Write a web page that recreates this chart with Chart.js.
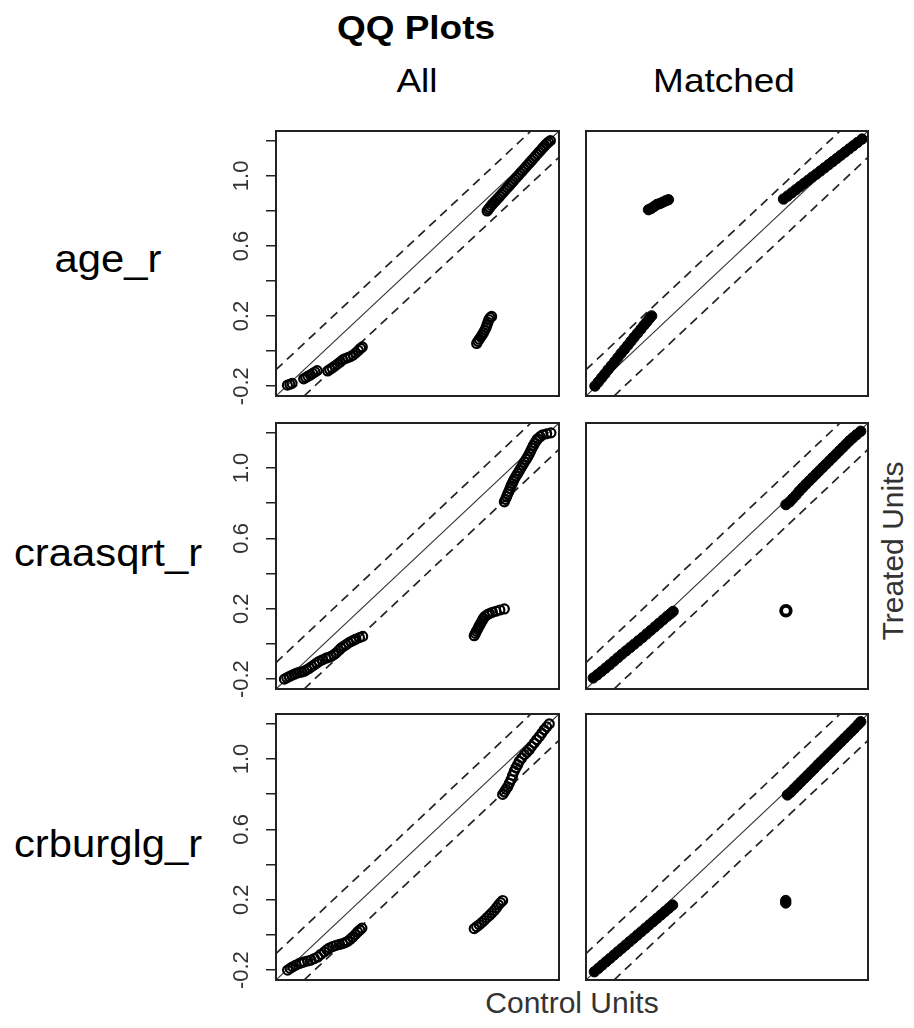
<!DOCTYPE html>
<html>
<head>
<meta charset="utf-8">
<script src="https://cdn.jsdelivr.net/npm/chart.js@4/dist/chart.umd.min.js"></script>
<style>
  html, body { margin: 0; padding: 0; background: #fff; }
  body { width: 914px; height: 1028px; position: relative; overflow: hidden;
         font-family: "Liberation Sans", Arial, Helvetica, sans-serif; }
  .lbl { position: absolute; white-space: nowrap; line-height: 1; }
  canvas { position: absolute; }
</style>
</head>
<body>
<script>
// ---------------- text ----------------
const chartTitle = 'QQ Plots';
const columnLabels = ['All', 'Matched'];
const rowLabels = ['age_r', 'craasqrt_r', 'crburglg_r'];
const xAxisTitle = 'Control Units';
const yAxisTitle = 'Treated Units';

// ---------------- axes ----------------
const axisMin = -0.256;
const axisMax = 1.256;
const yTickValues = [-0.2, 0.0, 0.2, 0.4, 0.6, 0.8, 1.0, 1.2];
const yTickLabels = ['-0.2', '0.2', '0.6', '1.0'];
const bandOffset = 0.15;

// ---------------- data (x = control quantile, y = treated quantile) ----------------
// age_r, All
const ageAllControl = [-0.195,-0.182,-0.170,-0.108,-0.097,-0.085,-0.072,-0.060,-0.048,-0.036,0.020,0.031,0.044,0.058,0.072,0.087,0.100,0.114,0.128,0.142,0.156,0.170,0.184,0.196,0.205,
  0.816,0.823,0.830,0.838,0.846,0.853,0.860,0.866,0.871,0.876,0.881,0.888,0.896,
  0.872,0.879,0.886,0.894,0.902,0.911,0.920,0.930,0.940,0.950,0.960,0.970,0.980,0.990,1.000,1.010,1.020,1.030,1.040,1.050,1.060,1.070,1.080,1.090,1.100,1.110,1.120,1.130,1.140,1.150,1.160,1.170,1.180,1.190,1.200,1.210];
const ageAllTreated = [-0.194,-0.189,-0.184,-0.158,-0.151,-0.143,-0.136,-0.127,-0.119,-0.111,-0.113,-0.105,-0.096,-0.085,-0.074,-0.062,-0.050,-0.042,-0.037,-0.031,-0.022,-0.010,0.004,0.016,0.024,
  0.044,0.056,0.068,0.080,0.093,0.106,0.120,0.134,0.149,0.164,0.179,0.191,0.198,
  0.800,0.810,0.820,0.830,0.841,0.851,0.861,0.872,0.884,0.896,0.908,0.920,0.932,0.944,0.956,0.968,0.980,0.992,1.004,1.016,1.028,1.040,1.052,1.064,1.076,1.088,1.100,1.112,1.124,1.136,1.148,1.160,1.172,1.183,1.193,1.201];

// age_r, Matched
const ageMatchedControl = [-0.208,-0.190,-0.172,-0.155,-0.138,-0.120,-0.102,-0.085,-0.068,-0.050,-0.032,-0.015,0.002,0.020,0.038,0.055,0.070,0.084,0.096,
  0.079,0.095,0.110,0.125,0.140,0.156,0.172,0.186,
  0.803,0.825,0.847,0.869,0.891,0.913,0.935,0.957,0.979,1.001,1.023,1.045,1.067,1.089,1.111,1.133,1.155,1.177,1.199,1.224];
const ageMatchedTreated = [-0.199,-0.176,-0.152,-0.130,-0.106,-0.083,-0.060,-0.037,-0.013,0.010,0.033,0.056,0.079,0.102,0.125,0.148,0.167,0.186,0.201,
  0.807,0.815,0.826,0.837,0.842,0.850,0.858,0.864,
  0.868,0.885,0.903,0.921,0.939,0.957,0.975,0.993,1.010,1.028,1.046,1.064,1.082,1.100,1.118,1.136,1.154,1.172,1.190,1.210];

// craasqrt_r, All
const craasqrtAllControl = [-0.211,-0.198,-0.185,-0.172,-0.158,-0.145,-0.131,-0.118,-0.105,-0.092,-0.078,-0.065,-0.051,-0.038,-0.025,-0.008,0.011,0.025,0.038,0.052,0.064,0.078,0.091,0.105,0.118,0.132,0.145,0.158,0.171,0.190,0.207,
  0.803,0.809,0.815,0.821,0.827,0.833,0.839,0.846,0.852,0.860,0.872,0.884,0.900,0.919,0.940,0.964,
  0.964,0.970,0.976,0.982,0.988,0.994,1.000,1.006,1.012,1.017,1.026,1.035,1.044,1.053,1.062,1.071,1.080,1.089,1.097,1.105,1.112,1.119,1.127,1.135,1.142,1.155,1.169,1.190,1.213];
const craasqrtAllTreated = [-0.200,-0.192,-0.185,-0.178,-0.172,-0.166,-0.162,-0.159,-0.155,-0.147,-0.138,-0.128,-0.118,-0.108,-0.099,-0.090,-0.081,-0.076,-0.071,-0.062,-0.052,-0.038,-0.024,-0.013,-0.004,0.006,0.014,0.021,0.028,0.036,0.043,
  0.047,0.060,0.072,0.083,0.096,0.108,0.120,0.133,0.145,0.156,0.166,0.173,0.180,0.186,0.193,0.199,
  0.808,0.822,0.837,0.852,0.867,0.883,0.899,0.912,0.925,0.937,0.953,0.969,0.985,1.001,1.017,1.033,1.049,1.064,1.080,1.097,1.113,1.128,1.142,1.156,1.166,1.178,1.189,1.195,1.200];

// craasqrt_r, Matched
const craasqrtMatchedControl = [-0.217,-0.195,-0.173,-0.151,-0.129,-0.107,-0.085,-0.063,-0.041,-0.019,0.003,0.025,0.047,0.069,0.091,0.113,0.135,0.157,0.179,0.197,0.211,
  0.816,0.836,0.852,0.870,0.887,0.905,0.923,0.941,0.959,0.977,0.995,1.013,1.031,1.049,1.067,1.085,1.103,1.121,1.139,1.157,1.175,1.195,1.217];
const craasqrtMatchedTreated = [-0.193,-0.175,-0.156,-0.137,-0.118,-0.098,-0.078,-0.058,-0.039,-0.020,-0.001,0.018,0.037,0.057,0.077,0.097,0.117,0.137,0.157,0.172,0.185,
  0.792,0.808,0.826,0.846,0.868,0.888,0.908,0.927,0.946,0.965,0.984,1.003,1.022,1.041,1.060,1.079,1.098,1.117,1.136,1.155,1.172,1.190,1.209];
const craasqrtMatchedOutlierControl = [0.816];
const craasqrtMatchedOutlierTreated = [0.189];

// crburglg_r, All
const crburglgAllControl = [-0.194,-0.180,-0.167,-0.149,-0.131,-0.118,-0.105,-0.087,-0.069,-0.051,-0.033,-0.016,0.002,0.016,0.029,0.047,0.065,0.083,0.100,0.114,0.127,0.141,0.154,0.167,0.180,0.192,0.203,
  0.803,0.816,0.830,0.843,0.857,0.870,0.884,0.897,0.910,0.922,0.933,0.944,0.955,
  0.955,0.964,0.973,0.982,0.991,1.000,1.008,1.017,1.026,1.035,1.044,1.057,1.071,1.084,1.097,1.110,1.124,1.137,1.151,1.164,1.177,1.190,1.204];
const crburglgAllTreated = [-0.200,-0.190,-0.181,-0.171,-0.162,-0.157,-0.153,-0.148,-0.143,-0.134,-0.125,-0.110,-0.096,-0.084,-0.074,-0.066,-0.059,-0.054,-0.049,-0.043,-0.036,-0.024,-0.012,0.002,0.017,0.028,0.039,
  0.036,0.047,0.058,0.070,0.083,0.097,0.111,0.125,0.139,0.155,0.171,0.184,0.196,
  0.799,0.813,0.828,0.842,0.862,0.883,0.907,0.931,0.950,0.968,0.987,1.006,1.025,1.039,1.053,1.072,1.091,1.110,1.128,1.147,1.166,1.183,1.200];

// crburglg_r, Matched
const crburglgMatchedControl = [-0.211,-0.190,-0.169,-0.148,-0.127,-0.106,-0.085,-0.064,-0.043,-0.022,-0.001,0.020,0.041,0.062,0.083,0.104,0.125,0.146,0.167,0.188,0.208,
  0.824,0.842,0.860,0.878,0.896,0.914,0.932,0.950,0.968,0.986,1.004,1.022,1.040,1.058,1.076,1.094,1.112,1.130,1.148,1.166,1.184,1.202,1.217,
  0.815,0.815];
const crburglgMatchedTreated = [-0.209,-0.190,-0.171,-0.152,-0.133,-0.114,-0.095,-0.076,-0.057,-0.038,-0.019,0.000,0.019,0.038,0.057,0.076,0.095,0.114,0.133,0.152,0.170,
  0.796,0.812,0.832,0.851,0.870,0.889,0.908,0.927,0.946,0.966,0.985,1.004,1.023,1.042,1.061,1.080,1.099,1.118,1.137,1.156,1.175,1.195,1.212,
  0.182,0.196];

// ---------------- layout ----------------
const FONT = '"Liberation Sans", Arial, Helvetica, sans-serif';
const rowBoxes = [{top: 131, bottom: 396}, {top: 423, bottom: 689}, {top: 714, bottom: 980}];
const colBoxes = [{left: 276, right: 559}, {left: 586, right: 868}];
const Y_AXIS_W = 76, PAD = 20;

function addLabel(text, x, y, style, extra) {
  const d = document.createElement('div');
  d.className = 'lbl';
  d.textContent = text;
  d.style.left = x + 'px';
  d.style.top = y + 'px';
  Object.assign(d.style, style);
  d.style.transform = 'translate(-50%,-50%)' + (extra || '');
  document.body.appendChild(d);
}

addLabel(chartTitle, 416, 27, {fontSize: '33px', fontWeight: 'bold', color: '#000'}, ' scaleX(1.12)');
addLabel(columnLabels[0], 417, 80, {fontSize: '33px', color: '#000'}, ' scaleX(1.12)');
addLabel(columnLabels[1], 724, 80, {fontSize: '33px', color: '#000'}, ' scaleX(1.12)');
const rowLabelY = [259, 553, 844];
rowLabels.forEach((t, i) => addLabel(t, 108, rowLabelY[i], {fontSize: '38px', color: '#000'}, ' scaleX(1.1)'));
addLabel(xAxisTitle, 572, 1003, {fontSize: '30px', color: '#333'});
addLabel(yAxisTitle, 893, 551, {fontSize: '30px', color: '#333'}, ' rotate(-90deg)');

const framePlugin = {
  id: 'frame',
  afterDatasetsDraw(chart) {
    const {ctx, chartArea: a} = chart;
    ctx.save();
    ctx.strokeStyle = '#222';
    ctx.lineWidth = 2;
    ctx.strokeRect(a.left, a.top, a.right - a.left, a.bottom - a.top);
    ctx.restore();
  }
};

function toPoints(xs, ys) { return xs.map((x, i) => ({x: x, y: ys[i]})); }

function refLines() {
  return [
    {data: [{x: axisMin, y: axisMin}, {x: axisMax, y: axisMax}], showLine: true, pointRadius: 0,
     borderColor: '#333', borderWidth: 1.1, order: 5},
    {data: [{x: axisMin, y: axisMin + bandOffset}, {x: axisMax - bandOffset, y: axisMax}], showLine: true, pointRadius: 0,
     borderColor: '#222', borderWidth: 1.7, borderDash: [9, 6], order: 5},
    {data: [{x: axisMin + bandOffset, y: axisMin}, {x: axisMax, y: axisMax - bandOffset}], showLine: true, pointRadius: 0,
     borderColor: '#222', borderWidth: 1.7, borderDash: [9, 6], order: 5}
  ];
}

function openPoints(xs, ys) {
  return {data: toPoints(xs, ys), showLine: false, pointRadius: 4.5, pointBorderWidth: 2.2,
          pointBorderColor: '#000', pointBackgroundColor: 'rgba(0,0,0,0)', order: 1};
}
function solidPoints(xs, ys) {
  return {data: toPoints(xs, ys), showLine: false, pointRadius: 5.2, pointBorderWidth: 1,
          pointBorderColor: '#000', pointBackgroundColor: '#000', order: 1};
}
function ringPoints(xs, ys) {
  return {data: toPoints(xs, ys), showLine: false, pointRadius: 4.8, pointBorderWidth: 3.8,
          pointBorderColor: '#000', pointBackgroundColor: 'rgba(0,0,0,0)', order: 1};
}

function makePanel(row, col, pointSets) {
  const rb = rowBoxes[row], cb = colBoxes[col];
  const showY = col === 0;
  const cLeft = cb.left - (showY ? Y_AXIS_W : PAD);
  const cTop = rb.top - PAD;
  const w = cb.right + PAD - cLeft;
  const h = rb.bottom - rb.top + 2 * PAD;
  const cv = document.createElement('canvas');
  cv.width = w; cv.height = h;
  cv.style.left = cLeft + 'px'; cv.style.top = cTop + 'px';
  cv.style.width = w + 'px'; cv.style.height = h + 'px';
  document.body.appendChild(cv);
  const yScale = {
    type: 'linear', min: axisMin, max: axisMax, display: showY,
    grid: {drawOnChartArea: false, drawTicks: true, tickLength: 10, color: '#222', lineWidth: 1.5},
    border: {display: false},
    ticks: {
      autoSkip: false, minRotation: 90, maxRotation: 90, crossAlign: 'center', padding: 5,
      color: '#333', font: {family: FONT, size: 22},
      callback: v => { const s = Number(v).toFixed(1); return yTickLabels.includes(s) ? s : ''; }
    }
  };
  if (showY) {
    yScale.afterBuildTicks = s => { s.ticks = yTickValues.map(v => ({value: v})); };
    yScale.afterFit = s => { s.width = Y_AXIS_W; };
  }
  new Chart(cv, {
    type: 'scatter',
    data: {datasets: refLines().concat(pointSets)},
    options: {
      responsive: false, animation: false, devicePixelRatio: 1, events: [],
      layout: {padding: {top: PAD, bottom: PAD, right: PAD, left: showY ? 0 : PAD}},
      plugins: {legend: {display: false}, tooltip: {enabled: false}, title: {display: false}},
      scales: {
        x: {type: 'linear', min: axisMin, max: axisMax, display: false},
        y: yScale
      }
    },
    plugins: [framePlugin]
  });
}

makePanel(0, 0, [openPoints(ageAllControl, ageAllTreated)]);
makePanel(0, 1, [solidPoints(ageMatchedControl, ageMatchedTreated)]);
makePanel(1, 0, [openPoints(craasqrtAllControl, craasqrtAllTreated)]);
makePanel(1, 1, [solidPoints(craasqrtMatchedControl, craasqrtMatchedTreated),
                 ringPoints(craasqrtMatchedOutlierControl, craasqrtMatchedOutlierTreated)]);
makePanel(2, 0, [openPoints(crburglgAllControl, crburglgAllTreated)]);
makePanel(2, 1, [solidPoints(crburglgMatchedControl, crburglgMatchedTreated)]);
</script>
</body>
</html>
